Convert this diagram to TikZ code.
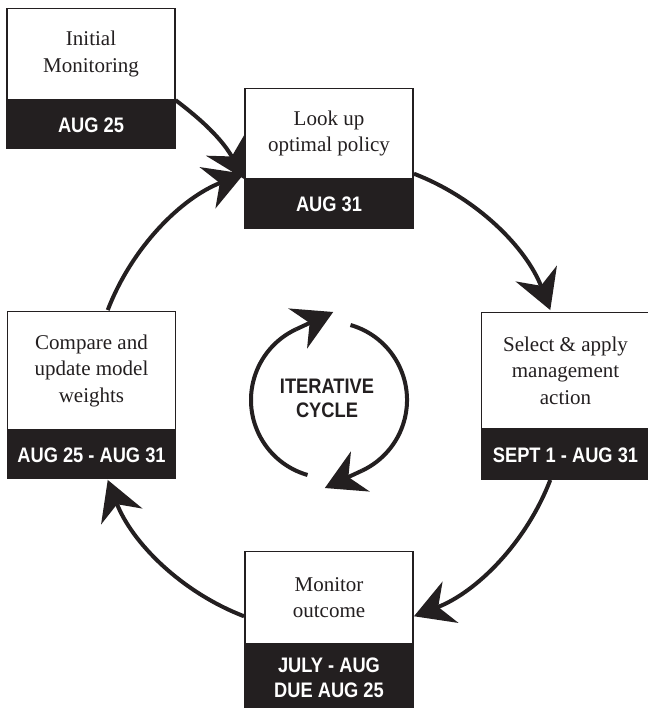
\documentclass[tikz,border=0pt]{standalone}
\usepackage{fontspec}
\setmainfont{Liberation Serif}
\newfontfamily\condfont[FakeStretch=0.87]{Liberation Sans}
\usetikzlibrary{arrows.meta,calc}
\definecolor{ink}{HTML}{231F20}
\begin{document}
\begin{tikzpicture}[x=1pt,y=1pt,
  box/.style={draw=ink, line width=1.2pt, fill=white, minimum width=168pt, inner sep=0pt,
    align=center, anchor=north, text=ink, font=\fontsize{21}{26.5}\selectfont},
  bar/.style={draw=ink, line width=1.2pt, fill=ink, minimum width=168pt, inner sep=0pt,
    align=center, anchor=north, text=white, font=\condfont\bfseries\fontsize{21}{25}\selectfont},
  arr/.style={draw=ink, line width=4pt, -{Stealth[length=39pt,width=44pt,inset=13pt]}},
  cyc/.style={draw=ink, line width=4pt}]
\useasboundingbox (0,0) rectangle (647,-708);

% boxes
\node[box, minimum height=91pt] (initw) at (91,-8) {Initial\\Monitoring};
\node[bar, minimum height=48pt] (initb) at (initw.south) {AUG 25};

\node[box, minimum height=90pt] (lookw) at (329,-88) {Look up\\optimal policy};
\node[bar, minimum height=49pt] (lookb) at (lookw.south) {AUG 31};

\node[box, minimum height=118pt] (cmpw) at (91.5,-311) {Compare and\\update model\\weights};
\node[bar, minimum height=48pt] (cmpb) at (cmpw.south) {AUG 25 - AUG 31};

\node[box, minimum height=116pt] (selw) at (565.5,-312) {Select \& apply\\management\\action};
\node[bar, minimum height=50pt] (selb) at (selw.south) {SEPT 1 - AUG 31};

\node[box, minimum height=92pt] (monw) at (329,-551) {Monitor\\outcome};
\node[bar, minimum height=66pt] (monb) at (monw.south) {JULY - AUG\\DUE AUG 25};

% outer cycle
\coordinate (C) at (329,-395);
\coordinate (o159) at ($(C)+(159:237)$);
\coordinate (o69) at ($(C)+(69:237)$);
\coordinate (o339) at ($(C)+(-21:237)$);
\coordinate (o249) at ($(C)+(249:237)$);

\draw[arr] (initw.south east) to[bend left=12] (lookw.south west);
\draw[arr] (o159) arc[start angle=159, end angle=111, radius=237];
\draw[arr] (o69) arc[start angle=69, end angle=21, radius=237];
\draw[arr] (o339) arc[start angle=-21, end angle=-69, radius=237];
\draw[arr] (o249) arc[start angle=249, end angle=201, radius=237];

% inner cycle
\coordinate (I) at (329,-400);
\coordinate (ia0) at ($(I)+(254:78)$);
\coordinate (ib0) at ($(I)+(74:78)$);
\draw[cyc] (ia0) arc[start angle=254, end angle=115, radius=78] coordinate (ia);
\draw[arr] (ia) -- ++(25:41);
\draw[cyc] (ib0) arc[start angle=74, end angle=-65, radius=78] coordinate (ib);
\draw[arr] (ib) -- ++(205:41);

\node[font=\condfont\bfseries\fontsize{21}{24}\selectfont, text=ink, align=center] (cyctext) at (327,-398) {ITERATIVE\\CYCLE};
\end{tikzpicture}
\end{document}
